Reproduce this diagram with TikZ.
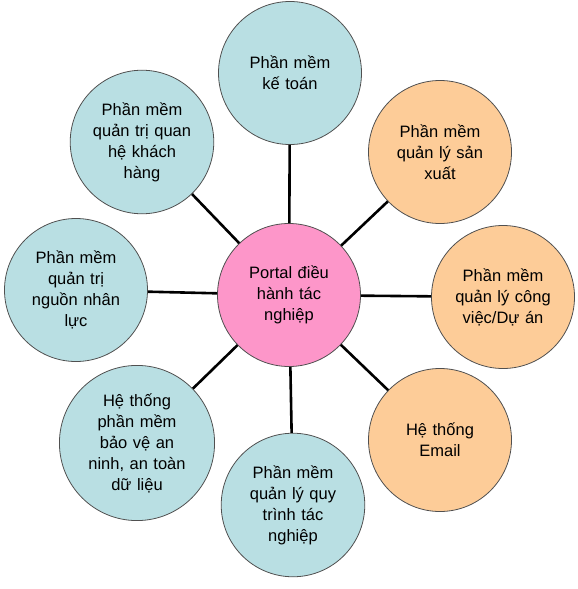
\documentclass[tikz,border=0pt]{standalone}
\usepackage{fontspec}
\setmainfont{Liberation Sans}
\definecolor{cblue}{HTML}{B9DFE3}
\definecolor{corange}{HTML}{FDCC98}
\definecolor{cpink}{HTML}{FD96C9}
\definecolor{cedge}{HTML}{505050}
\begin{document}
\begin{tikzpicture}[x=1pt,y=-1pt,
  bub/.style={circle,draw=cedge,line width=0.8pt,minimum size=143pt,inner sep=0pt,
    align=center,font=\fontsize{16.5}{21}\selectfont,text width=120pt},
  blue/.style={bub,fill=cblue},
  orng/.style={bub,fill=corange},
  pnk/.style={bub,fill=cpink},
  link/.style={line width=2.6pt,black}]
\useasboundingbox (0,0) rectangle (578,589);
\node[pnk] (c) at (289,295) {Portal điều\\hành tác\\nghiệp};
\node[blue] (kt) at (290,73) {Phần mềm\\kế toán};
\node[orng] (sx) at (440,152) {Phần mềm\\quản lý sản\\xuất};
\node[orng] (cv) at (503,297) {Phần mềm\\quản lý công\\việc/Dự án};
\node[orng] (em) at (440,440) {Hệ thống\\Email};
\node[blue] (qt) at (293,505) {Phần mềm\\quản lý quy\\trình tác\\nghiệp};
\node[blue] (bv) at (137,443) {Hệ thống\\phần mềm\\bảo vệ an\\ninh, an toàn\\dữ liệu};
\node[blue] (ns) at (76,290) {Phần mềm\\quản trị\\nguồn nhân\\lực};
\node[blue] (kh) at (142,142) {Phần mềm\\quản trị quan\\hệ khách\\hàng};
\foreach \n in {kt,sx,cv,em,qt,bv,ns,kh}{\draw[link] (c) -- (\n);}
\end{tikzpicture}
\end{document}
